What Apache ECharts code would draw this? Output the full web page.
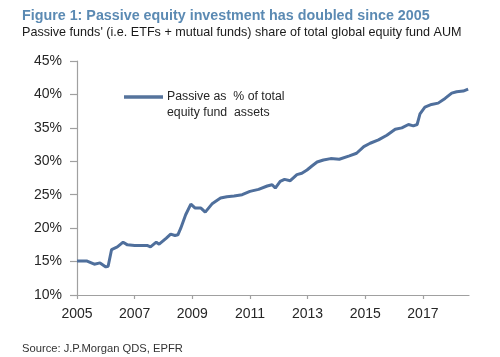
<!DOCTYPE html>
<html>
<head>
<meta charset="utf-8">
<script src="https://cdn.jsdelivr.net/npm/echarts@6/dist/echarts.min.js"></script>
<style>html,body{margin:0;padding:0;background:#fff;}#c{width:500px;height:357px;}</style>
</head>
<body>
<div id="c"></div>
<script>
var years = [2005.0,2005.33,2005.6,2005.8,2006.0,2006.08,2006.2,2006.4,2006.6,2006.75,2007.0,2007.45,2007.55,2007.75,2007.85,2008.1,2008.25,2008.4,2008.5,2008.6,2008.77,2008.95,2009.1,2009.3,2009.45,2009.7,2009.98,2010.2,2010.45,2010.73,2011.0,2011.3,2011.6,2011.77,2011.88,2012.05,2012.2,2012.4,2012.63,2012.8,2012.98,2013.15,2013.33,2013.55,2013.8,2014.1,2014.45,2014.7,2014.95,2015.17,2015.46,2015.75,2016.04,2016.27,2016.5,2016.67,2016.8,2016.9,2017.07,2017.3,2017.53,2017.77,2018.0,2018.17,2018.4,2018.57];
var passiveShare = [15.1,15.1,14.6,14.8,14.2,14.3,16.8,17.2,17.9,17.5,17.4,17.4,17.2,17.9,17.6,18.5,19.1,18.9,19.0,20.0,22.0,23.6,23.0,23.0,22.4,23.7,24.5,24.7,24.8,25.0,25.5,25.8,26.3,26.5,26.0,27.0,27.3,27.1,28.0,28.2,28.7,29.3,29.9,30.2,30.4,30.3,30.8,31.2,32.2,32.7,33.2,33.9,34.8,35.0,35.5,35.3,35.5,37.1,38.1,38.5,38.7,39.4,40.2,40.4,40.5,40.8];
var xTickYears = [2005,2007,2009,2011,2013,2015,2017];
var seriesName = 'Passive as % of total equity fund assets';
var legendLines = ['Passive as  % of total', 'equity fund  assets'];
var titleText = 'Figure 1: Passive equity investment has doubled since 2005';
var subtitleText = "Passive funds' (i.e. ETFs + mutual funds) share of total global equity fund AUM";
var sourceText = 'Source: J.P.Morgan QDS, EPFR';

var points = years.map(function (y, i) { return [y, passiveShare[i]]; });
var FONT = '"Liberation Sans", Arial, sans-serif';
var chart = echarts.init(document.getElementById('c'), null, {renderer: 'canvas'});
chart.setOption({
  animation: false,
  backgroundColor: '#ffffff',
  title: [
    {text: titleText, left: 17, top: 4, textStyle: {fontFamily: FONT, fontSize: 14.3, fontWeight: 'bold', color: '#5b8ab3'}},
    {text: subtitleText, left: 17, top: 21, textStyle: {fontFamily: FONT, fontSize: 12.6, fontWeight: 'normal', color: '#1a1a1a'}},
    {text: sourceText, left: 17, top: 338, textStyle: {fontFamily: FONT, fontSize: 11.2, fontWeight: 'normal', color: '#333333'}}
  ],
  grid: {left: 77, right: 31, top: 61, bottom: 62, containLabel: false},
  xAxis: {
    type: 'value', min: 2005, max: 2018.6,
    axisLine: {show: true, lineStyle: {color: '#a0a0a0', width: 1.2}},
    axisTick: {show: true, length: 4, customValues: xTickYears, lineStyle: {color: '#a0a0a0', width: 1.2}},
    axisLabel: {customValues: xTickYears, margin: 12, fontFamily: FONT, fontSize: 14, color: '#262626', formatter: function (v) { return String(Math.round(v)); }},
    splitLine: {show: false}
  },
  yAxis: {
    type: 'value', min: 10, max: 45, interval: 5,
    axisLine: {show: true, lineStyle: {color: '#a0a0a0', width: 1.2}},
    axisTick: {show: true, length: 7, lineStyle: {color: '#a0a0a0', width: 1.2}},
    axisLabel: {margin: 15, fontFamily: FONT, fontSize: 14, color: '#262626', formatter: '{value}%'},
    splitLine: {show: false}
  },
  graphic: [
    {type: 'line', shape: {x1: 124, y1: 97, x2: 163, y2: 97}, style: {stroke: '#55739c', lineWidth: 3.5}},
    {type: 'text', left: 167, top: 89, style: {text: legendLines.join('\n'), font: '12.3px ' + FONT, fill: '#262626', lineHeight: 16}}
  ],
  series: [{
    name: seriesName, type: 'line', data: points, showSymbol: false,
    lineStyle: {color: '#4f6f9c', width: 3}, itemStyle: {color: '#4f6f9c'}
  }]
});
</script>
</body>
</html>
